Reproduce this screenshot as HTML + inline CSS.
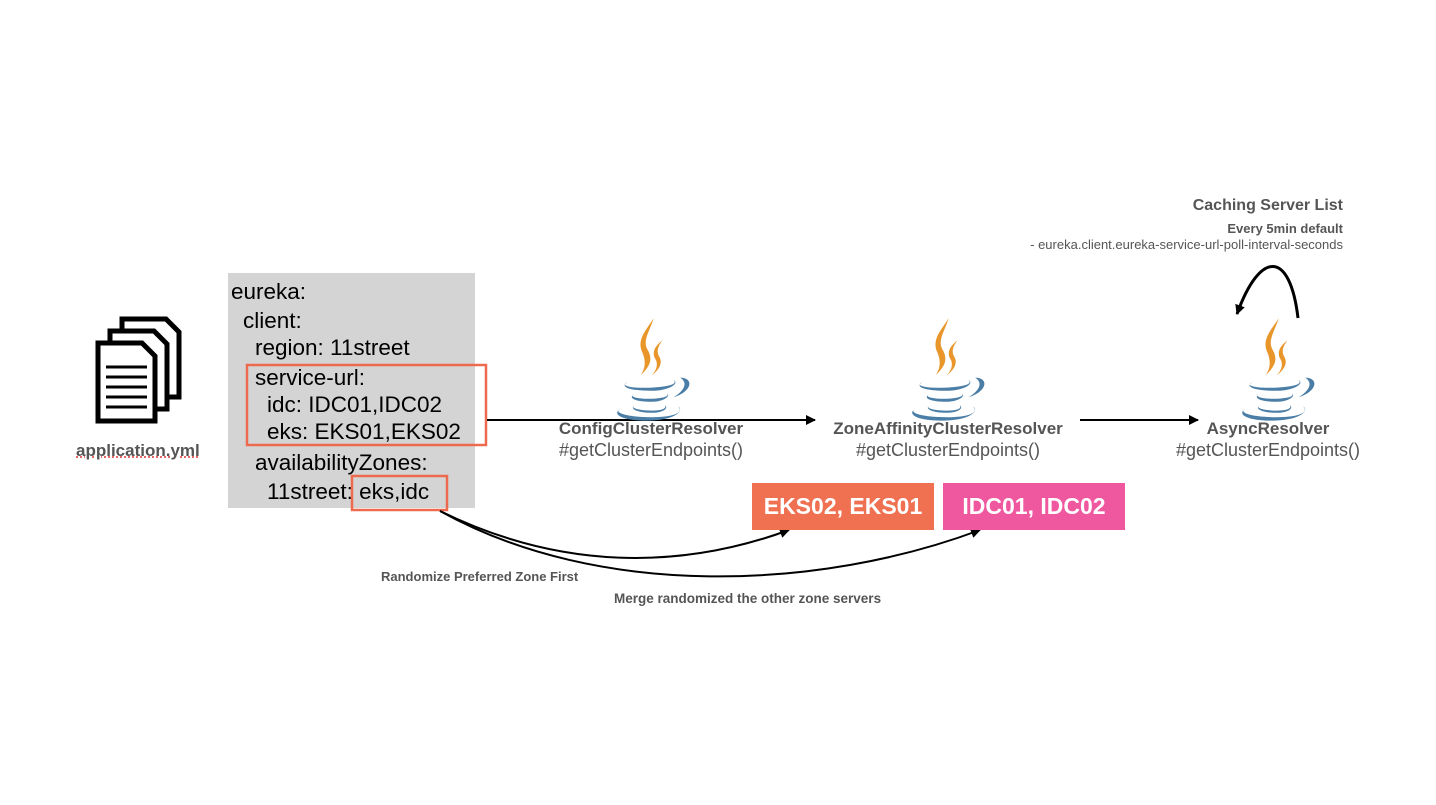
<!DOCTYPE html>
<html><head><meta charset="utf-8"><style>
body{margin:0;width:1436px;height:805px;background:#fff;position:relative;overflow:hidden;font-family:"Liberation Sans",sans-serif;}
.a{position:absolute;white-space:nowrap;}
.yml{position:absolute;left:228px;top:273px;width:247px;height:235px;background:#d4d4d4;}
.yl{position:absolute;font-size:22.5px;color:#000;left:0;}
.lbl{font-weight:bold;font-size:17px;color:#555;text-align:center;width:320px;}
.sub{font-size:18px;color:#555;text-align:center;width:320px;}
.box{position:absolute;color:#fff;font-weight:bold;font-size:23px;text-align:center;line-height:47px;height:47px;}
</style></head><body>
<svg width="0" height="0" style="position:absolute"><defs>
<g id="java">
<path d="M38 2 C30 14 22 22 28 34 C31 42 30 48 26 54 C34 46 38 40 32 30 C28 22 34 14 38 2 Z" fill="#e8962a"/>
<path d="M46 22 C38 28 36 34 40 40 C42 45 40 50 36 54 C44 48 46 42 43 37 C40 32 42 27 46 22 Z" fill="#e8962a"/>
<path d="M14 60 C6 64 20 66 38 65 C52 64 60 62 56 58 C62 62 50 68 36 68 C18 68 6 65 14 60 Z" fill="#4a7ea6"/>
<path d="M20 71 C14 74 28 76 40 75 C50 74 52 72 50 70 C54 73 46 78 36 78 C22 78 14 75 20 71 Z" fill="#4a7ea6"/>
<path d="M62 56 C74 56 74 68 56 74 C68 66 68 60 62 56 Z" fill="#4a7ea6"/>
<path d="M8 84 C0 88 14 92 36 92 C56 92 66 88 60 82 C66 86 58 94 36 95 C12 96 -2 90 8 84 Z" fill="#4a7ea6"/>
<path d="M20 81 C16 84 26 86 36 86 C46 86 50 84 48 81 C52 84 46 88 36 88 C24 88 16 85 20 81 Z" fill="#4a7ea6"/>
</g>
<marker id="ar" markerWidth="10" markerHeight="10" refX="9" refY="5" orient="auto" markerUnits="userSpaceOnUse"><path d="M0 0 L10 5 L0 10 Z" fill="#000"/></marker>
</defs></svg>

<svg class="a" style="left:92px;top:315px" width="92" height="112">
<g fill="#fff" stroke="#000" stroke-width="5">
<path d="M30 4 H74 L87 17 V82 H30 Z"/>
<path d="M18 16 H62 L75 29 V94 H18 Z"/>
<path d="M6 28 H50 L63 41 V106 H6 Z"/>
</g>
<g stroke="#000" stroke-width="3"><line x1="14" y1="52" x2="55" y2="52"/><line x1="14" y1="62" x2="55" y2="62"/><line x1="14" y1="72" x2="55" y2="72"/><line x1="14" y1="82" x2="55" y2="82"/><line x1="14" y1="92" x2="55" y2="92"/></g>
</svg>
<div class="a" style="left:76px;top:441px;font-size:17px;font-weight:bold;color:#555;text-decoration:underline dotted #e05050;">application.yml</div>

<div class="yml">
<div class="yl" style="top:6px;left:3px">eureka:</div>
<div class="yl" style="top:35px;left:15px">client:</div>
<div class="yl" style="top:62px;left:27px">region: 11street</div>
<div class="yl" style="top:92px;left:27px">service-url:</div>
<div class="yl" style="top:119px;left:39px">idc: IDC01,IDC02</div>
<div class="yl" style="top:146px;left:39px">eks: EKS01,EKS02</div>
<div class="yl" style="top:177px;left:27px">availabilityZones:</div>
<div class="yl" style="top:206px;left:39px">11street: eks,idc</div>
</div>

<svg class="a" style="left:0;top:0" width="1436" height="805">
<rect x="247" y="365" width="239" height="80" fill="none" stroke="#ee6a4e" stroke-width="2.5"/>
<rect x="352" y="476" width="95" height="34" fill="none" stroke="#ee6a4e" stroke-width="2.5"/>
<line x1="487" y1="420" x2="815" y2="420" stroke="#000" stroke-width="2" marker-end="url(#ar)"/>
<line x1="1080" y1="420" x2="1198" y2="420" stroke="#000" stroke-width="2" marker-end="url(#ar)"/>
<path d="M440 511 C560 570 680 570 789 530" fill="none" stroke="#000" stroke-width="2" marker-end="url(#ar)"/>
<path d="M440 511 C600 600 820 590 980 530" fill="none" stroke="#000" stroke-width="2" marker-end="url(#ar)"/>
<path d="M1298 318 C1290 250 1260 250 1237 314" fill="none" stroke="#000" stroke-width="3" marker-end="url(#ar)"/>
<use href="#java" transform="translate(612 316) scale(1.1)"/>
<use href="#java" transform="translate(907 316) scale(1.1)"/>
<use href="#java" transform="translate(1237 316) scale(1.1)"/>
</svg>

<div class="a lbl" style="left:491px;top:419px">ConfigClusterResolver</div>
<div class="a sub" style="left:491px;top:440px">#getClusterEndpoints()</div>
<div class="a lbl" style="left:788px;top:419px">ZoneAffinityClusterResolver</div>
<div class="a sub" style="left:788px;top:440px">#getClusterEndpoints()</div>
<div class="a lbl" style="left:1108px;top:419px">AsyncResolver</div>
<div class="a sub" style="left:1108px;top:440px">#getClusterEndpoints()</div>

<div class="box" style="left:752px;top:483px;width:182px;background:#f07052">EKS02, EKS01</div>
<div class="box" style="left:943px;top:483px;width:182px;background:#ef579f">IDC01, IDC02</div>

<div class="a" style="left:381px;top:569px;font-size:13px;font-weight:bold;color:#555">Randomize Preferred Zone First</div>
<div class="a" style="left:614px;top:591px;font-size:13.5px;font-weight:bold;color:#555">Merge randomized the other zone servers</div>

<div class="a" style="right:93px;top:197px;font-size:16px;font-weight:bold;color:#555;text-align:right">Caching Server List</div>
<div class="a" style="right:93px;top:221px;font-size:13px;font-weight:bold;color:#555;text-align:right">Every 5min default</div>
<div class="a" style="right:93px;top:237px;font-size:13px;color:#555;text-align:right">- eureka.client.eureka-service-url-poll-interval-seconds</div>
</body></html>
